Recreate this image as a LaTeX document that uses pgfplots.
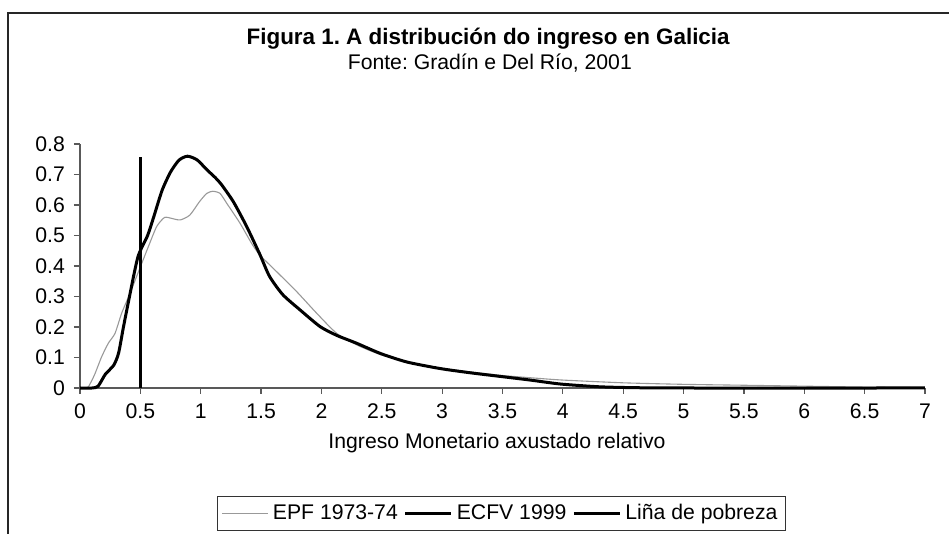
\documentclass[border=0pt]{standalone}
\usepackage{fontspec}
\setmainfont{Liberation Sans}
\usepackage{pgfplots}
\pgfplotsset{compat=1.18}
\frenchspacing

% EPF 1973-74 (thin grey)
\pgfplotstableread{
x y
0     0
0.05  0
0.07  0.004
0.12  0.043
0.18  0.103
0.235 0.147
0.29  0.179
0.345 0.245
0.414 0.31
0.49  0.387
0.566 0.463
0.635 0.529
0.70  0.559
0.76  0.556
0.83  0.551
0.91  0.567
0.99  0.611
1.05  0.638
1.10  0.645
1.16  0.638
1.215 0.606
1.326 0.54
1.422 0.474
1.49  0.436
1.63  0.381
1.795 0.316
1.961 0.245
2.127 0.179
2.3   0.140
2.5   0.108
2.75  0.083
3.0   0.064
3.25  0.052
3.5   0.041
3.75  0.033
4.0   0.026
4.5   0.017
5.0   0.012
5.5   0.009
6.0   0.006
6.5   0.003
7.0   0.001
}\epf

% ECFV 1999 (thick black)
\pgfplotstableread{
x y
0     0
0.10  0
0.15  0.006
0.21  0.045
0.28  0.075
0.32  0.115
0.36  0.20
0.41  0.30
0.48  0.43
0.56  0.50
0.61  0.56
0.68  0.648
0.75  0.708
0.82  0.747
0.89  0.760
0.97  0.748
1.05  0.716
1.12  0.690
1.17  0.668
1.27  0.611
1.38  0.530
1.49  0.438
1.57  0.366
1.68  0.306
1.82  0.257
1.99  0.201
2.13  0.172
2.29  0.147
2.49  0.113
2.71  0.085
2.98  0.064
3.23  0.050
3.48  0.038
3.73  0.026
3.98  0.013
4.3   0.004
4.6   0.001
5.0   0
7.0   0
}\ecfv

\begin{document}
\begin{tikzpicture}
\path[use as bounding box] (0,0) rectangle (474.5pt,267pt);
\draw[line width=1pt, black!85] (4pt,-5pt) -- (4pt,260.5pt) -- (480pt,260.5pt);
\begin{axis}[
    at={(40pt,73pt)}, anchor=south west,
    scale only axis, width=422.5pt, height=122pt,
    xmin=0, xmax=7, ymin=0, ymax=0.8,
    clip=false,
    axis x line*=bottom, axis y line*=left,
    axis line style={black!65, line width=0.6pt},
    xtick={0,0.5,1,1.5,2,2.5,3,3.5,4,4.5,5,5.5,6,6.5,7},
    ytick={0,0.1,0.2,0.3,0.4,0.5,0.6,0.7,0.8},
    tick align=outside, major tick length=3pt,
    tick style={black!65, line width=0.6pt},
    ticklabel style={font=\fontsize{10.6}{12}\selectfont},
    xticklabel style={yshift=-1.5pt},
    yticklabel style={xshift=-1pt},
    /pgf/number format/assume math mode=true,
    xlabel={Ingreso Monetario axustado relativo},
    xlabel style={font=\fontsize{10.6}{12}\selectfont, at={(axis description cs:0.4935,-0.225)}, anchor=center},
    legend columns=3,
    legend style={at={(axis description cs:0.499,-0.514)}, anchor=center,
        draw=black!80, line width=0.5pt, font=\fontsize{10.6}{12}\selectfont,
        inner xsep=2pt, inner ysep=2pt,
        /tikz/every even column/.append style={column sep=1pt}},
    legend image code/.code={\draw[#1] (0pt,0pt) -- (23pt,0pt);},
]
\addplot[smooth, tension=0.4, color=black!40, line width=0.55pt] table {\epf};
\addplot[smooth, tension=0.4, color=black, line width=1.5pt] table {\ecfv};
\addplot[color=black, line width=1.5pt] coordinates {(0.5,0) (0.5,0.758)};
\legend{EPF 1973-74, ECFV 1999, Liña de pobreza}
\node[font=\bfseries\fontsize{11.2}{13}\selectfont] at (axis description cs:0.483,1.43) {Figura 1. A distribución do ingreso en Galicia};
\node[font=\fontsize{10.6}{12}\selectfont] at (axis description cs:0.485,1.333) {Fonte: Gradín e Del Río, 2001};
\end{axis}
\end{tikzpicture}
\end{document}
